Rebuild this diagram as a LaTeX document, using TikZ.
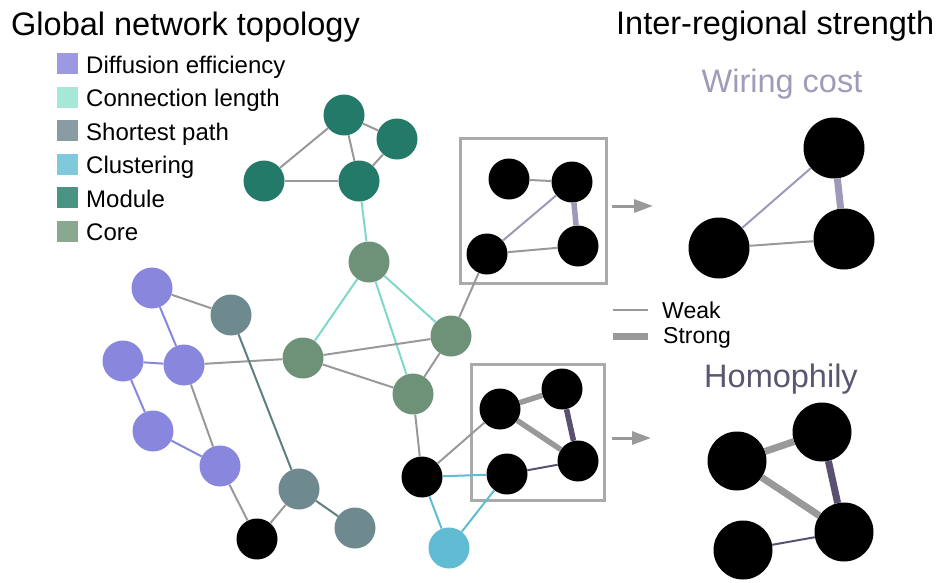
\documentclass[tikz,border=0pt]{standalone}
\usepackage{fontspec}
\setmainfont{Liberation Sans}
\usetikzlibrary{arrows.meta}
\definecolor{purp}{HTML}{8886DD}
\definecolor{purpL}{HTML}{9C99E0}
\definecolor{slate}{HTML}{6E8A8E}
\definecolor{slateE}{HTML}{5E7F80}
\definecolor{slateL}{HTML}{8A9CA3}
\definecolor{modc}{HTML}{237A68}
\definecolor{modL}{HTML}{4A9282}
\definecolor{corec}{HTML}{6E9278}
\definecolor{coreL}{HTML}{88A890}
\definecolor{clus}{HTML}{5FBCD3}
\definecolor{clusL}{HTML}{80C8DC}
\definecolor{teal}{HTML}{7FD8C8}
\definecolor{tealL}{HTML}{A6E8D8}
\definecolor{edgegray}{HTML}{999999}
\definecolor{boxgray}{HTML}{AAAAAA}
\definecolor{lav}{HTML}{9F98B8}
\definecolor{dpur}{HTML}{5A5070}
\definecolor{lavtext}{HTML}{A09BB8}
\definecolor{homtext}{HTML}{5D5670}
\tikzset{
  nd/.style={circle, inner sep=0pt, minimum size=41pt, fill=#1},
  bignd/.style={circle, inner sep=0pt, minimum size=#1, fill=black},
  ge/.style={draw=edgegray, line width=2pt},
  gs/.style={draw=edgegray, line width=7pt},
  gsm/.style={draw=edgegray, line width=5.5pt},
  ce/.style={draw=#1, line width=2pt},
  se/.style={draw=#1, line width=7pt},
  sem/.style={draw=#1, line width=5.5pt},
  lsq/.style={fill=#1, minimum size=21pt, inner sep=0pt},
  ltxt/.style={anchor=base west, inner sep=0pt, font=\fontsize{24}{28}\selectfont},
  ttl/.style={inner sep=0pt, font=\fontsize{32.5}{38}\selectfont},
  bx/.style={draw=boxgray, line width=3pt},
  arr/.style={draw=edgegray, line width=3pt, -{Triangle[length=19pt,width=13pt]}},
}
\begin{document}
\begin{tikzpicture}[x=1pt,y=-1pt]
\useasboundingbox (0,0) rectangle (942,582);
% titles
\node[ttl, anchor=base west] (t1) at (11,35) {Global network topology};
\node[ttl, anchor=base west] (t2) at (616,34) {Inter-regional strength};
\node[ttl, anchor=base, text=lavtext] (t3) at (782,92) {Wiring cost};
\node[ttl, anchor=base, text=homtext] (t4) at (781,387) {Homophily};
% legend
\node[lsq=purpL] (q1) at (67.5,63.5) {};
\node[lsq=tealL] (q2) at (67.5,97) {};
\node[lsq=slateL] (q3) at (67.5,130.5) {};
\node[lsq=clusL] (q4) at (67.5,164) {};
\node[lsq=modL] (q5) at (67.5,197.5) {};
\node[lsq=coreL] (q6) at (67.5,231) {};
\node[ltxt] (l1) at (86,73) {Diffusion efficiency};
\node[ltxt] (l2) at (86,106.5) {Connection length};
\node[ltxt] (l3) at (86,140) {Shortest path};
\node[ltxt] (l4) at (86,173.5) {Clustering};
\node[ltxt] (l5) at (86,207) {Module};
\node[ltxt] (l6) at (86,240.5) {Core};
% boxes
\draw[bx] (460,138) rectangle (606,283);
\draw[bx] (471,364) rectangle (604,500);
% module nodes
\node[nd=modc] (m1) at (344,115) {};
\node[nd=modc] (m2) at (397,139) {};
\node[nd=modc] (m3) at (359,181) {};
\node[nd=modc] (m4) at (264,181) {};
% core
\node[nd=corec] (c1) at (369,262) {};
\node[nd=corec] (c2) at (451,336) {};
\node[nd=corec] (c3) at (303,358) {};
\node[nd=corec] (c4) at (413,394) {};
% purple
\node[nd=purp] (p1) at (152,288) {};
\node[nd=purp] (p2) at (123,361) {};
\node[nd=purp] (p3) at (184,365) {};
\node[nd=purp] (p4) at (153,431) {};
\node[nd=purp] (p5) at (220,466) {};
% slate
\node[nd=slate] (s1) at (231,315) {};
\node[nd=slate] (s2) at (299,489) {};
\node[nd=slate] (s3) at (355,528) {};
\node[nd=black] (b1) at (257,539) {};
\node[nd=clus] (cl) at (449,548) {};
\node[nd=black] (k1) at (422,477) {};
% top box nodes
\node[nd=black] (w1) at (509,179) {};
\node[nd=black] (w2) at (572,182) {};
\node[nd=black] (w3) at (578,246) {};
\node[nd=black] (w4) at (487,254) {};
% bottom box nodes
\node[nd=black] (h1) at (500,409) {};
\node[nd=black] (h2) at (562,389) {};
\node[nd=black] (h3) at (578,461) {};
\node[nd=black] (h4) at (507,474) {};
% right wiring
\node[bignd=61pt] (x1) at (834,148) {};
\node[bignd=61pt] (x2) at (844,239) {};
\node[bignd=61pt] (x3) at (719,248) {};
% right homophily
\node[bignd=59pt] (r1) at (737,461) {};
\node[bignd=59pt] (r2) at (822,432) {};
\node[bignd=59pt] (r3) at (844,532) {};
\node[bignd=59pt] (r4) at (743,550) {};
% edges
\draw[ge] (m1) -- (m2);
\draw[ge] (m1) -- (m3);
\draw[ge] (m2) -- (m3);
\draw[ge] (m1) -- (m4);
\draw[ge] (m4) -- (m3);
\draw[ce=teal] (m3) -- (c1);
\draw[ce=teal] (c1) -- (c3);
\draw[ce=teal] (c1) -- (c2);
\draw[ce=teal] (c1) -- (c4);
\draw[ge] (c3) -- (c2);
\draw[ge] (c3) -- (c4);
\draw[ge] (c2) -- (c4);
\draw[ge] (c2) -- (w4);
\draw[ge] (c4) -- (k1);
\draw[ce=purp] (p1) -- (p3);
\draw[ce=purp] (p2) -- (p3);
\draw[ce=purp] (p2) -- (p4);
\draw[ce=purp] (p4) -- (p5);
\draw[ge] (p1) -- (s1);
\draw[ge] (p3) -- (c3);
\draw[ge] (p3) -- (p5);
\draw[ge] (p5) -- (b1);
\draw[ce=slateE] (s1) -- (s2);
\draw[ce=slateE] (s2) -- (s3);
\draw[ge] (s2) -- (b1);
\draw[ge] (k1) -- (h1);
\draw[ce=clus] (k1) -- (h4);
\draw[ce=clus] (k1) -- (cl);
\draw[ce=clus] (cl) -- (h4);
\draw[gsm] (h1) -- (h2);
\draw[gsm] (h1) -- (h3);
\draw[sem=dpur] (h2) -- (h3);
\draw[ce=dpur] (h4) -- (h3);
\draw[ge] (w1) -- (w2);
\draw[sem=lav] (w2) -- (w3);
\draw[ce=lav] (w2) -- (w4);
\draw[ge] (w4) -- (w3);
\draw[se=lav] (x1) -- (x2);
\draw[ce=lav] (x1) -- (x3);
\draw[ge] (x3) -- (x2);
\draw[gs] (r1) -- (r2);
\draw[gs] (r1) -- (r3);
\draw[se=dpur] (r2) -- (r3);
\draw[ce=dpur] (r4) -- (r3);
% arrows
\coordinate (a1s) at (612,206);
\coordinate (a1e) at (653,206);
\coordinate (a2s) at (612,438);
\coordinate (a2e) at (651,438);
\draw[arr] (a1s) -- (a1e);
\draw[arr] (a2s) -- (a2e);
% weak/strong legend
\coordinate (ws1) at (613,310);
\coordinate (ws2) at (648,310);
\coordinate (ss1) at (613,336);
\coordinate (ss2) at (648,336);
\draw[ge] (ws1) -- (ws2);
\draw[gs] (ss1) -- (ss2);
\node[ltxt, font=\fontsize{23}{27}\selectfont] (wk) at (662,318) {Weak};
\node[ltxt, font=\fontsize{23}{27}\selectfont] (st) at (663,343) {Strong};
\end{tikzpicture}
\end{document}
